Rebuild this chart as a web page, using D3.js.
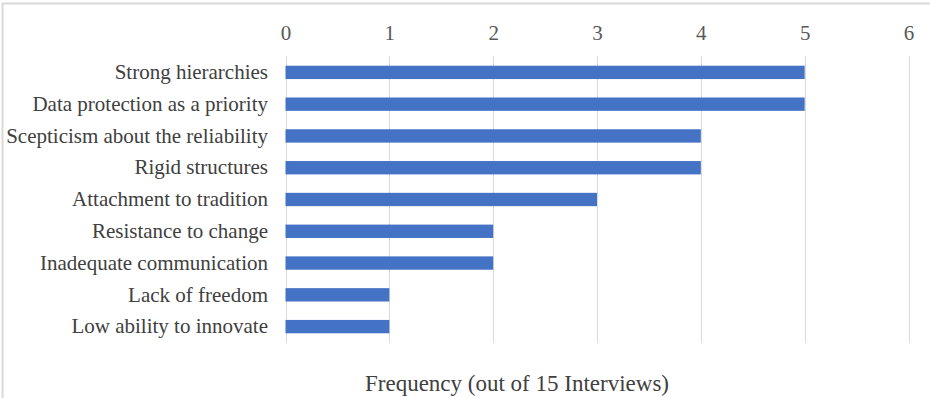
<!DOCTYPE html>
<html><head><meta charset="utf-8">
<script src="https://cdn.jsdelivr.net/npm/d3@7"></script>
<style>body{margin:0;background:#fff}svg{display:block}</style>
</head><body>
<script>
const categories = ["Strong hierarchies","Data protection as a priority","Scepticism about the reliability","Rigid structures","Attachment to tradition","Resistance to change","Inadequate communication","Lack of freedom","Low ability to innovate"];
const values = [5,5,4,4,3,2,2,1,1];
const ticks = [0,1,2,3,4,5,6];
const axisTitle = "Frequency (out of 15 Interviews)";

const W = 930, H = 398;
const svg = d3.select("body").append("svg").attr("width", W).attr("height", H);
svg.append("rect").attr("width", W).attr("height", H).attr("fill", "#fff");
// chart border (top & left visible)
svg.append("path").attr("d", `M2.5,${H} L2.5,3.5 L${W},3.5`).attr("fill","none").attr("stroke","#d9d9d9").attr("stroke-width",2);

const x = d3.scaleLinear().domain([0,6]).range([285.5, 908.5]);
const y = d3.scaleBand().domain(categories).range([56.5, 342.5]).paddingInner(0.58).paddingOuter(0.29);
const font = "'Liberation Serif','Times New Roman',serif";

svg.append("g").selectAll("line").data(ticks).join("line")
  .attr("x1", d=>Math.round(x(d))+0.5).attr("x2", d=>Math.round(x(d))+0.5)
  .attr("y1", 56).attr("y2", 343).attr("stroke","#d9d9d9").attr("stroke-width",1);

svg.append("g").selectAll("rect").data(values).join("rect")
  .attr("x", x(0)).attr("y", (d,i)=>y(categories[i]))
  .attr("width", d=>x(d)-x(0)).attr("height", y.bandwidth()).attr("fill","#4472C4");

const ax = d3.axisTop(x).tickValues(ticks).tickSize(0).tickPadding(0).tickFormat(d3.format("d"));
const gx = svg.append("g").attr("transform","translate(0,40)").call(ax);
gx.select(".domain").remove();
gx.selectAll("text").attr("font-family",font).attr("font-size",21).attr("fill","#595959");

const ay = d3.axisLeft(y).tickSize(0).tickPadding(0);
const gy = svg.append("g").attr("transform","translate(268,0)").call(ay);
gy.select(".domain").remove();
gy.selectAll("text").attr("font-family",font).attr("font-size",21).attr("fill","#404040").attr("dy","0.32em");

svg.append("text").attr("x",517).attr("y",391).attr("text-anchor","middle")
  .attr("font-family",font).attr("font-size",23).attr("fill","#404040").text(axisTitle);
</script>
</body></html>
